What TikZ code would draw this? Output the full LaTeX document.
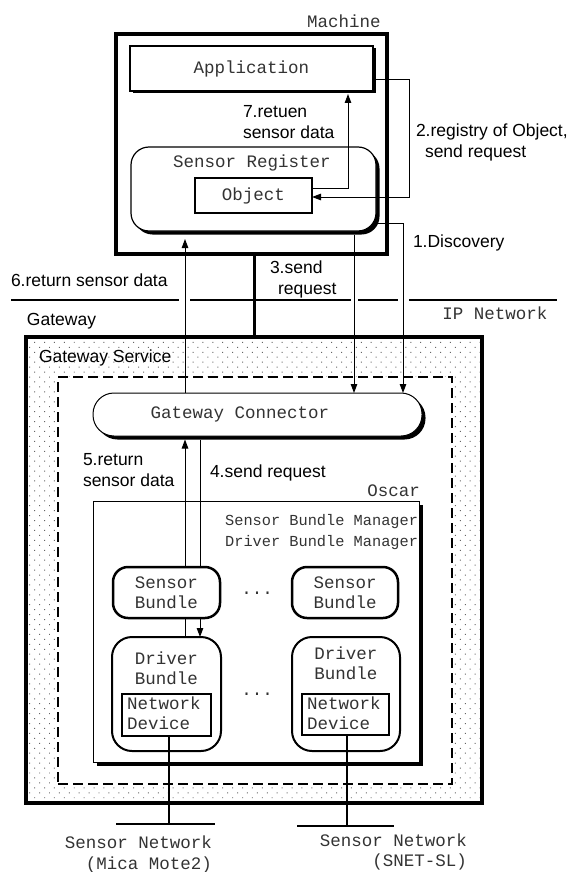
\documentclass[tikz,border=0pt]{standalone}
\usepackage{fontspec}
\setmainfont{Liberation Sans}
\setmonofont{Liberation Mono}
\usetikzlibrary{arrows.meta,calc,shadows,patterns.meta}
\begin{document}
\begin{tikzpicture}[x=1pt,y=-1pt,
  every node/.style={inner sep=0pt,outer sep=0pt},
  mono/.style={font=\ttfamily\fontsize{17.5}{20.5}\selectfont, text=black!80},
  monosm/.style={font=\ttfamily\fontsize{15.3}{21}\selectfont, text=black!80},
  sans/.style={font=\fontsize{17.5}{21}\selectfont},
  arr/.style={-{Triangle[length=9pt,width=6.5pt]}, line width=1pt},
  link/.style={line width=1pt},
  shad/.style={drop shadow={shadow xshift=#1,shadow yshift=-#1,fill=black,opacity=1}},
  bundle/.style={draw, fill=white, line width=2.5pt, rounded corners=15pt},
  dbundle/.style={draw, fill=white, line width=2pt, rounded corners=20pt},
  devbox/.style={draw, fill=white, line width=2pt},
  netline/.style={line width=2.5pt},
]
\useasboundingbox (0,0) rectangle (572,872);

% ---------- Gateway ----------
\node[draw, line width=3.5pt, minimum width=456pt, minimum height=466pt,
      pattern={Dots[distance=7pt,angle=45,radius=0.7pt]}, pattern color=black!60] (gw) at (254,570) {};
\node[draw, dash pattern=on 10pt off 5pt, line width=2.5pt, fill=white,
      minimum width=394pt, minimum height=407pt] (gs) at (255,580.5) {};
\node[sans, anchor=west] (gstxt) at (39,358) {Gateway Service};
\node[sans, anchor=west] (gwtxt) at (27,321) {Gateway};

% Oscar
\node[draw, line width=1pt, fill=white, minimum width=326pt, minimum height=261pt, shad=4pt] (os) at (256,631.5) {};
\node[mono, anchor=east] (ostxt) at (420,491) {Oscar};
\node[monosm, anchor=east, align=right] (mgr) at (418,532.5) {Sensor Bundle Manager\\Driver Bundle Manager};

% bundles
\node[bundle, minimum width=107pt, minimum height=51pt, mono, align=center] (sb1) at (166.5,592.5) {Sensor\\Bundle};
\node[bundle, minimum width=106pt, minimum height=51pt, mono, align=center] (sb2) at (345,592.5) {Sensor\\Bundle};
\node[mono, anchor=base] (dots1) at (257,594) {...};

\node[dbundle, minimum width=109pt, minimum height=114pt] (db1) at (166.5,694) {};
\node[dbundle, minimum width=108pt, minimum height=114pt] (db2) at (346,694) {};
\node[mono, align=center] (db1txt) at (166.5,668.5) {Driver\\Bundle};
\node[mono, align=center] (db2txt) at (346,663.5) {Driver\\Bundle};
\node[mono, anchor=base] (dots2) at (257,695) {...};

\node[devbox, minimum width=89pt, minimum height=42pt] (nd1) at (166.5,715) {};
\node[devbox, minimum width=87pt, minimum height=41pt] (nd2) at (345.5,714.5) {};
\node[mono, anchor=west, align=left] (nd1txt) at (127,713) {Network\\Device};
\node[mono, anchor=west, align=left] (nd2txt) at (307,713) {Network\\Device};

% gateway connector
\node[draw, fill=white, line width=1pt, rounded corners=21pt, minimum width=329pt, minimum height=43pt, shad=3.5pt] (gc) at (257.5,414.5) {};
\node[mono] (gctxt) at (240,414) {Gateway Connector};

% arrows 5 and 4
\coordinate (x5) at ($(db1.north)+(18.5,0)$);
\coordinate (x4) at ($(db1.north)+(33.5,0)$);
\coordinate (t5) at ($(gc.south)+(0,3.5)$);
\draw[link] (x5) -- (x5 |- sb1.south);
\draw[arr] (x5 |- sb1.north) -- (x5 |- t5);
\draw[link] (x4 |- t5) -- (x4 |- sb1.north);
\draw[arr] (x4 |- sb1.south) -- (x4 |- db1.north);
\node[sans, anchor=west, align=left] (l5) at (83,470) {5.return\\sensor data};
\node[sans, anchor=west] (l4) at (210,473) {4.send request};

% sensor networks
\coordinate (n1a) at (116,824); \coordinate (n1b) at (215,824);
\coordinate (n2a) at (297,826); \coordinate (n2b) at (394,826);
\draw[netline] (n1a) -- (n1b);
\draw[netline] (n2a) -- (n2b);
\coordinate (v1) at ($(nd1.south)+(2.5,0)$);
\coordinate (v2) at ($(nd2.south)+(1.5,0)$);
\draw[netline] (v1) -- (v1 |- n1a);
\draw[netline] (v2) -- (v2 |- n2a);
\node[mono, anchor=east, align=right] (sn1) at (212,854.5) {Sensor Network\\(Mica Mote2)};
\node[mono, anchor=east, align=right] (sn2) at (467,852) {Sensor Network\\(SNET-SL)};

% ---------- Machine ----------
\node[mono] (mtxt) at (344,21) {Machine};
\node[draw, line width=3.5pt, minimum width=271pt, minimum height=220pt] (machine) at (251.5,144) {};
\node[draw, fill=white, line width=1.2pt, minimum width=243pt, minimum height=45pt, shad=2.5pt, mono] (app) at (251.5,68.5) {Application};
\node[draw, fill=white, line width=1.2pt, rounded corners=18pt, minimum width=245pt, minimum height=84pt, shad=3.5pt] (reg) at (253.5,189) {};
\node[mono] (regtxt) at (252,163) {Sensor Register};
\node[draw, fill=white, line width=2pt, minimum width=117pt, minimum height=35pt, mono] (obj) at (253.5,195.5) {Object};

% arrow 7
\draw[arr] ($(obj.east)+(0,-7.5)$) -| ($(app.south east)+(-25,3)$);
\node[sans, anchor=west, align=left] (l7) at (243,122.5) {7.retuen\\sensor data};
% arrow 2
\draw[arr] ($(app.east)+(0,11.5)$) -- ++(36,0) |- ($(obj.east)+(0,1.5)$);
\node[sans, anchor=west, align=left] (l2) at (416,142.5) {2.registry of Object,\\\hspace*{9pt}send request};
% arrow 1
\coordinate (d1) at ($(gc.north east)+(-19,0)$);
\draw[arr] ($(reg.east)+(2,34)$) -| (d1);
\node[sans, anchor=west] (l1) at (413,243) {1.Discovery};
% arrow 3
\coordinate (s3) at ($(reg.south)+(100.5,3.5)$);
\draw[arr] (s3) -- (s3 |- gc.north);
\node[sans, anchor=west, align=left] (l3) at (270,279.5) {3.send\\\hspace*{8pt}request};
% arrow 6
\coordinate (s6) at ($(gc.north)+(-72.5,0)$);
\coordinate (t6) at ($(reg.south)+(0,8)$);
\draw[arr] (s6) -- (s6 |- t6);
\node[sans, anchor=west] (l6) at (11,280) {6.return sensor data};
% machine to gateway
\coordinate (s0) at ($(machine.south)+(2.5,0)$);
\draw[line width=3pt] (s0) -- (s0 |- gw.north);

% IP network
\draw[line width=2.2pt] (11,300) -- (179,300) (190,300) -- (351,300) (358,300) -- (398,300) (409,300) -- (557,300);
\node[mono] (iptxt) at (495,313) {IP Network};
\end{tikzpicture}
\end{document}
